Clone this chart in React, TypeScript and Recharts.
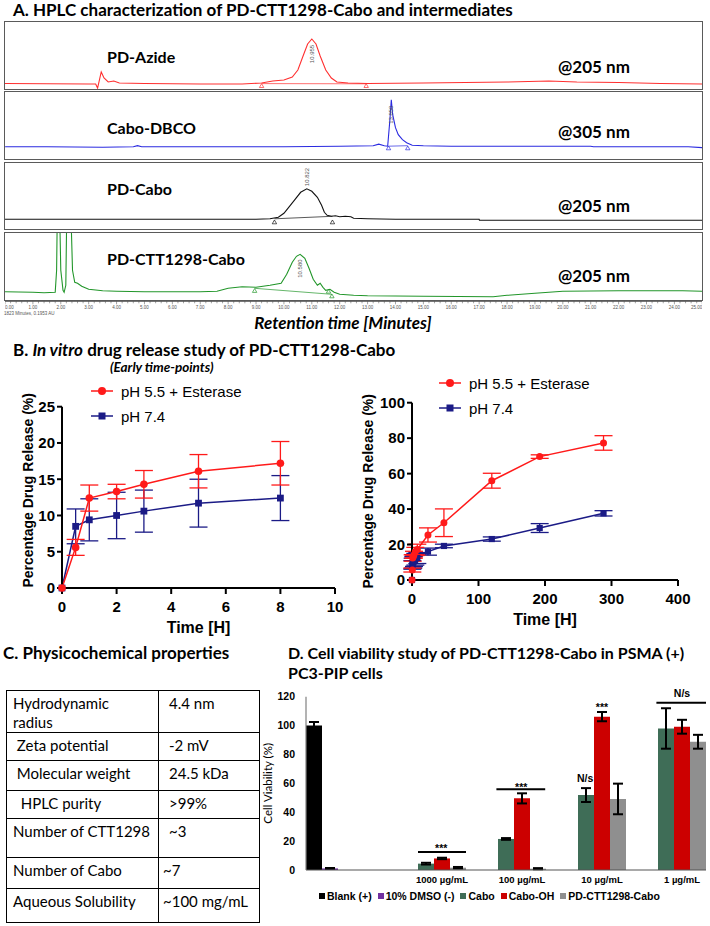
import React from 'react';
import {
  ComposedChart,
  LineChart,
  Line,
  Scatter,
  Bar,
  XAxis,
  YAxis,
  ErrorBar,
  Legend,
  ReferenceLine,
  ReferenceDot,
} from 'recharts';

// ---------- A. HPLC traces: retention time (min) and signal above baseline (a.u.)
const azideTime = [0, 3.0, 3.25, 3.32, 3.45, 3.55, 3.7, 3.9, 4.1, 5, 7, 8.5, 9.2, 9.6, 10.0, 10.3, 10.5, 10.7, 10.85, 11.0, 11.15, 11.3, 11.5, 11.7, 11.9, 12.3, 13, 15, 18, 19.5, 20.5, 22, 23.5, 25];
const azideSignal = [0.5, 0, 0, -4, 12, 6, 2, 3, 1, 0.5, 0, 0, 1, 3, 4, 7, 14, 29, 40, 45, 40, 28, 14, 6, 2, 1, 0.5, 1, 2, 3, 2, 1.5, 0.5, 0];
const dbcoTime = [0, 1.5, 3.5, 4.6, 4.75, 4.9, 8, 10, 12, 13.2, 13.4, 13.6, 13.72, 13.8, 13.85, 13.9, 14.0, 14.1, 14.25, 14.4, 14.6, 15, 16, 21, 21.1, 24.5, 25];
const dbcoSignal = [0, 0, -0.5, 0, 1, 0, 0, 0, 0.5, 1, 2.5, 1, 0.5, 27, 47, 32, 19, 12, 7, 4, 1.5, 1, 0.5, 0.5, 0, 0, -1];
const caboTime = [0, 9, 9.5, 9.8, 10.0, 10.2, 10.4, 10.6, 10.82, 11.0, 11.2, 11.35, 11.45, 11.55, 11.7, 11.85, 12.0, 12.2, 12.4, 12.5, 13, 14, 17, 17.01, 25];
const caboSignal = [0, 0, 0.5, 2, 6, 13, 20, 27, 30.5, 28, 22, 14, 7, 4, 3, 3.5, 2.5, 3, 2.5, 1, 0.5, 0, 0, -1, -1];
const conjTime = [0, 1.0, 1.4, 1.8, 1.85, 1.88, 1.95, 2.0, 2.08, 2.12, 2.18, 2.22, 2.35, 2.42, 2.5, 2.6, 2.75, 3.0, 3.5, 4, 5, 7, 7.6, 8.0, 8.5, 9.0, 9.5, 9.9, 10.1, 10.3, 10.45, 10.58, 10.75, 10.9, 11.05, 11.2, 11.3, 11.4, 11.5, 11.65, 11.8, 12.0, 12.5, 13, 15, 17.5, 18, 19, 20, 22, 23, 24.3, 25];
const conjSignal = [0.5, 0, -0.5, 0, 22, 92, 92, 22, 2, 0, 7, 92, 92, 22, 10, 9, 6, 3, 1.5, 1, 0.5, 0.5, 1, 4, 5.5, 5, 7, 9, 18, 30, 36, 38, 34, 24, 13, 7, 9, 5, 2, 3, 0, -2, -3, -3.5, -4, -4.5, -3, -1, 1, 1.5, 1.5, 1.5, 1];

// integration limits (triangles) and baselines
const azideLimitTime = [9.2, 12.95];
const azideLimitSignal = [-1.7, -1.7];
const dbcoLimitTime = [13.75, 14.44];
const dbcoLimitSignal = [-1.3, -1.3];
const caboLimitTime = [9.66, 11.74];
const caboLimitSignal = [-2.7, -2.7];
const conjLimitTime = [8.95, 11.6, 11.72];
const conjLimitSignal = [1.7, 1.0, -3.7];
const azideBaseSignal = [0.4, 0.2];
const dbcoBaseSignal = [0.5, 1];
const caboBaseSignal = [0.5, 3];
const conjBaseSignal = [4, -2];

const hplcTicks = Array.from({ length: 126 }, (_, i) => Math.round(i * 20) / 100);

// ---------- B. drug release
const releaseTime = [0, 0.5, 1, 2, 3, 5, 8, 24, 48, 120, 192, 288];
const acidRelease = [0, 5.6, 12.4, 13.3, 14.3, 16.1, 17.2, 25.4, 32.3, 56.0, 69.6, 77.3];
const acidErr = [0, 1.1, 1.8, 1.0, 1.9, 2.3, 3.0, 4.0, 7.8, 4.2, 1.0, 4.1];
const neutralRelease = [0, 8.5, 9.4, 10.0, 10.6, 11.7, 12.4, 16.0, 19.2, 23.1, 29.3, 37.6];
const neutralErr = [0, 2.4, 2.9, 3.2, 2.9, 3.3, 3.1, 2.0, 1.0, 1.2, 2.5, 1.5];

// ---------- C. properties
const propNames = ['Hydrodynamic radius', ' Zeta potential', ' Molecular weight', '  HPLC purity', 'Number of CTT1298', 'Number of Cabo', 'Aqueous Solubility'];
const propValues = ['4.4 nm', '-2 mV', '24.5 kDa', '>99%', '~3', '~7', '~100 mg/mL'];

// ---------- D. cell viability
const concCategories = ['', '1000 µg/mL', '100 µg/mL', '10 µg/mL', '1 µg/mL'];
const seriesNames = ['Blank (+)', '10% DMSO (-)', 'Cabo', 'Cabo-OH', 'PD-CTT1298-Cabo'];
const blankViability = [100, null, null, null, null];
const blankSd = [2.5, null, null, null, null];
const dmsoViability = [1.1, null, null, null, null];
const dmsoSd = [0.3, null, null, null, null];
const caboViability = [null, 4.4, 21.5, 51.9, 98.0];
const caboSd = [null, 0.6, 0.6, 4.8, 14];
const caboOhViability = [null, 8.0, 49.6, 106.2, 99.2];
const caboOhSd = [null, 0.5, 3.5, 3.2, 4.8];
const conjViability = [null, 1.6, 0.9, 49.2, 88.8];
const conjSd = [null, 0.5, 0.4, 10.6, 4.8];
// significance marks, x in category units (category i spans i..i+1)
const sigFrom = [1.4, 2.38, 4.38];
const sigTo = [2.0, 2.99, 5.0];
const sigLevel = [12.5, 55.9, 115.8];
const markX = [1.69, 2.69, 3.49, 3.7, 4.7];
const markY = [14.8, 57.6, 63.5, 113, 122.6];
const markText = ['***', '***', 'N/s', '***', 'N/s'];

const arial = '"Liberation Sans", Arial, sans-serif';
const lato = 'Lato, "Open Sans", sans-serif';

const traces = [
  { name: 'PD-Azide', wave: '@205 nm', color: '#ff3030', top: 22, bottom: 89.5, domain: [-5.5, 62], labelY: 57, waveY: 67,
    time: azideTime, signal: azideSignal, limT: azideLimitTime, limS: azideLimitSignal, baseS: azideBaseSignal, peak: '10.955', peakT: 11.0, peakS: 30 },
  { name: 'Cabo-DBCO', wave: '@305 nm', color: '#2a2ae0', top: 92.3, bottom: 160, domain: [-13, 54.7], labelY: 128, waveY: 132,
    time: dbcoTime, signal: dbcoSignal, limT: dbcoLimitTime, limS: dbcoLimitSignal, baseS: dbcoBaseSignal, peak: '13.850', peakT: 13.85, peakS: 32 },
  { name: 'PD-Cabo', wave: '@205 nm', color: '#111111', top: 162.7, bottom: 230, domain: [-11, 56.3], labelY: 189, waveY: 206,
    time: caboTime, signal: caboSignal, limT: caboLimitTime, limS: caboLimitSignal, baseS: caboBaseSignal, peak: '10.822', peakT: 10.82, peakS: 42.3 },
  { name: 'PD-CTT1298-Cabo', wave: '@205 nm', color: '#22962a', top: 232.7, bottom: 301, domain: [-9, 59.3], labelY: 259, waveY: 276,
    time: conjTime, signal: conjSignal, limT: conjLimitTime, limS: conjLimitSignal, baseS: conjBaseSignal, peak: '10.580', peakT: 10.58, peakS: 23.7 },
];

const HplcTick = (props: any) => {
  const { x, y, payload } = props;
  const v = payload.value;
  const major = Math.abs(v - Math.round(v)) < 1e-6;
  const anchor = v === 0 ? 'start' : v === 25 ? 'end' : 'middle';
  return (
    <g>
      <line x1={x} x2={x} y1={y} y2={y + (major ? 3 : 2)} stroke="#444" strokeWidth={0.5} />
      {major && (
        <text x={x} y={y + 8} fontSize={4.5} textAnchor={anchor} fill="#555" fontFamily={arial}>
          {v.toFixed(2)}
        </text>
      )}
    </g>
  );
};

const HplcTrace = ({ tr, showAxis }: any) => {
  const data = tr.time.map((t: number, i: number) => ({ t, v: tr.signal[i] }));
  const limits = tr.limT.map((t: number, i: number) => ({ t, v: tr.limS[i] }));
  const base = [tr.limT[0], tr.limT[tr.limT.length - 1]].map((t: number, i: number) => ({ t, v: tr.baseS[i] }));
  const peak = [{ t: tr.peakT, v: tr.peakS, label: tr.peak }];
  const h = tr.bottom - tr.top;
  return (
    <div style={{ position: 'absolute', left: 4.7, top: tr.top }}>
      <ComposedChart width={697.3} height={h + (showAxis ? 12 : 0)} margin={{ top: 0, right: 0, bottom: 0, left: 0 }}>
        <XAxis
          type="number"
          dataKey="t"
          domain={[0, 25]}
          allowDataOverflow
          hide={!showAxis}
          ticks={hplcTicks}
          interval={0}
          tick={<HplcTick />}
          tickLine={false}
          tickSize={0}
          tickMargin={0}
          axisLine={{ stroke: '#555', strokeWidth: 1 }}
          height={12}
        />
        <YAxis type="number" domain={tr.domain} allowDataOverflow hide />
        <Line data={base} dataKey="v" stroke={tr.color} strokeWidth={0.7} dot={false} isAnimationActive={false} />
        <Line data={data} dataKey="v" stroke={tr.color} strokeWidth={1.1} dot={false} isAnimationActive={false} />
        <Scatter
          data={limits}
          dataKey="v"
          isAnimationActive={false}
          shape={(p: any) => (
            <path d={`M${p.cx - 2.2},${p.cy + 1.8}L${p.cx},${p.cy - 2}L${p.cx + 2.2},${p.cy + 1.8}Z`} fill="none" stroke={tr.color} strokeWidth={0.7} />
          )}
        />
        <Scatter
          data={peak}
          dataKey="v"
          isAnimationActive={false}
          shape={(p: any) => (
            <text x={p.cx} y={p.cy} transform={`rotate(-90 ${p.cx} ${p.cy})`} fontSize={6} textAnchor="middle" dy={2} fill="#555" fontFamily={arial}>
              {p.payload.label}
            </text>
          )}
        />
      </ComposedChart>
    </div>
  );
};

// ---------- B components
const ReleaseLegend = ({ payload }: any) => (
  <div>
    {(payload || []).map((e: any) => (
      <div key={e.value} style={{ display: 'flex', alignItems: 'center', height: 25, font: `15px ${arial}`, color: '#000', whiteSpace: 'nowrap' }}>
        <svg width={22} height={12}>
          <line x1={0} x2={22} y1={6} y2={6} stroke={e.color} strokeWidth={1.5} />
          {e.dataKey === 'acid' ? <circle cx={11} cy={6} r={4} fill={e.color} /> : <rect x={7.5} y={2.5} width={7} height={7} fill={e.color} />}
        </svg>
        <span style={{ marginLeft: 8 }}>{e.value}</span>
      </div>
    ))}
  </div>
);

const axisStroke = { stroke: '#000', strokeWidth: 2 };
const releaseTick = { fontSize: 15, fontWeight: 700, fill: '#000', fontFamily: arial };

const ReleaseChart = ({ data, left, top, width, height, mTop, mRight, xDomain, xTicks, yDomain, yTicks, labelDx, labelDy, legendLeft, legendTop, r }: any) => (
  <div style={{ position: 'absolute', left, top }}>
    <LineChart width={width} height={height} data={data} margin={{ top: mTop, right: mRight, bottom: 6, left: 0 }}>
      <XAxis
        type="number"
        dataKey="t"
        domain={xDomain}
        ticks={xTicks}
        interval={0}
        height={45}
        axisLine={axisStroke}
        tickLine={axisStroke}
        tickSize={6}
        tickMargin={7}
        tick={releaseTick}
        label={{ value: 'Time [H]', position: 'insideBottom', offset: 0, style: { fontSize: 16, fontWeight: 700, fill: '#000', fontFamily: arial } }}
      />
      <YAxis
        type="number"
        domain={yDomain}
        ticks={yTicks}
        interval={0}
        width={62}
        axisLine={axisStroke}
        tickLine={axisStroke}
        tickSize={5}
        tickMargin={2}
        tick={releaseTick}
        label={{ value: 'Percentage Drug Release (%)', angle: -90, position: 'center', dx: labelDx, dy: labelDy, style: { fontSize: 14, fontWeight: 700, fill: '#000', fontFamily: arial } }}
      />
      <Legend layout="vertical" align="center" verticalAlign="middle" wrapperStyle={{ left: legendLeft, top: legendTop, width: 200 }} content={<ReleaseLegend />} />
      <Line
        dataKey="neutral"
        name="pH 7.4"
        stroke="#1b1b86"
        strokeWidth={1.5}
        isAnimationActive={false}
        dot={(p: any) => <rect key={`n${p.index}`} x={p.cx - r} y={p.cy - r} width={2 * r} height={2 * r} fill="#1b1b86" />}
      >
        <ErrorBar dataKey="neutralErr" width={9} stroke="#1b1b86" strokeWidth={1.3} direction="y" />
      </Line>
      <Line
        dataKey="acid"
        name="pH 5.5 + Esterase"
        stroke="#ff1a1a"
        strokeWidth={1.5}
        isAnimationActive={false}
        dot={(p: any) => <circle key={`a${p.index}`} cx={p.cx} cy={p.cy} r={r + 0.4} fill="#ff1a1a" />}
      >
        <ErrorBar dataKey="acidErr" width={9} stroke="#ff1a1a" strokeWidth={1.3} direction="y" />
      </Line>
    </LineChart>
  </div>
);

// ---------- D components
const ViabilityLegend = ({ payload }: any) => {
  const items = [...(payload || [])].sort((a: any, b: any) => seriesNames.indexOf(a.value) - seriesNames.indexOf(b.value));
  return (
    <div style={{ display: 'flex', font: `bold 10.5px ${arial}`, color: '#000', whiteSpace: 'nowrap' }}>
      {items.map((e: any) => (
        <span key={e.value} style={{ display: 'inline-flex', alignItems: 'center', marginRight: 6 }}>
          <span style={{ display: 'inline-block', width: 6, height: 6, background: e.color, marginRight: 2 }} />
          {e.value}
        </span>
      ))}
    </div>
  );
};

export default function App() {
  const releaseData = releaseTime.map((t, i) => ({
    t,
    acid: acidRelease[i],
    acidErr: acidErr[i],
    neutral: neutralRelease[i],
    neutralErr: neutralErr[i],
  }));
  const earlyData = releaseData.filter((d) => d.t <= 8);
  const viabilityData = concCategories.map((c, i) => ({
    conc: c,
    slot: i + 0.5,
    blank: blankViability[i],
    blankSd: blankSd[i],
    dmso: dmsoViability[i],
    dmsoSd: dmsoSd[i],
    cabo: caboViability[i],
    caboSd: caboSd[i],
    caboOh: caboOhViability[i],
    caboOhSd: caboOhSd[i],
    conj: conjViability[i],
    conjSd: conjSd[i],
  }));

  const title = { position: 'absolute' as const, fontFamily: lato, fontWeight: 700, fontSize: 17, color: '#000', whiteSpace: 'nowrap' as const, lineHeight: '20px' };
  const hplcLabel = { position: 'absolute' as const, fontFamily: lato, fontWeight: 700, fontSize: 16, color: '#000', whiteSpace: 'nowrap' as const, lineHeight: '20px' };
  const cell = { border: '1.5px solid #000', padding: '3px 6px 0 6px', verticalAlign: 'top' as const, fontFamily: lato, fontSize: 15, lineHeight: '19px', color: '#000', whiteSpace: 'pre-wrap' as const };
  const rowHeights = [40, 28, 30, 28, 39, 31, 34];

  return (
    <div style={{ position: 'absolute', left: 0, top: 0, width: 710, height: 926, background: '#fff', overflow: 'hidden' }}>
      {/* A */}
      <div style={{ ...title, left: 13, top: 0 }}>A. HPLC characterization of PD-CTT1298-Cabo and intermediates</div>
      {traces.map((tr) => (
        <div key={`box-${tr.name}`} style={{ position: 'absolute', left: 4, top: tr.top - 1, width: 699, height: tr.bottom - tr.top + 1, border: '1.5px solid #5a5a5a', boxSizing: 'border-box' }} />
      ))}
      {traces.map((tr, i) => (
        <HplcTrace key={tr.name} tr={tr} showAxis={i === traces.length - 1} />
      ))}
      {traces.map((tr) => (
        <React.Fragment key={`lbl-${tr.name}`}>
          <div style={{ ...hplcLabel, left: 107, top: tr.labelY - 10 }}>{tr.name}</div>
          <div style={{ ...hplcLabel, left: 558, top: tr.waveY - 10, fontSize: 17 }}>{tr.wave}</div>
        </React.Fragment>
      ))}
      <div style={{ position: 'absolute', left: 4, top: 311, fontSize: 4.5, fontFamily: arial, color: '#555', whiteSpace: 'nowrap' }}>1823 Minutes, 0.1953 AU</div>
      <div style={{ ...title, left: 0, width: 686, textAlign: 'center', top: 313, fontStyle: 'italic', fontSize: 17 }}>Retention time [Minutes]</div>

      {/* B */}
      <div style={{ ...title, left: 13, top: 340 }}>
        B. <i>In vitro</i> drug release study of PD-CTT1298-Cabo
      </div>
      <div style={{ ...title, left: 110, top: 358, fontSize: 13.5, fontStyle: 'italic', lineHeight: '18px' }}>(Early time-points)</div>
      <ReleaseChart
        data={earlyData}
        left={0}
        top={370}
        width={350}
        height={269}
        mTop={36.7}
        mRight={15}
        xDomain={[0, 10]}
        xTicks={[0, 2, 4, 6, 8, 10]}
        yDomain={[0, 25]}
        yTicks={[0, 5, 10, 15, 20, 25]}
        labelDx={-3}
        labelDy={-7}
        legendLeft={91}
        legendTop={8.5}
        r={3.4}
      />
      <ReleaseChart
        data={releaseData}
        left={350}
        top={370}
        width={348}
        height={261}
        mTop={32.7}
        mRight={20}
        xDomain={[0, 400]}
        xTicks={[0, 100, 200, 300, 400]}
        yDomain={[0, 100]}
        yTicks={[0, 20, 40, 60, 80, 100]}
        labelDx={-13}
        labelDy={0}
        legendLeft={89}
        legendTop={0.5}
        r={3.1}
      />

      {/* C */}
      <div style={{ ...title, left: 3, top: 643 }}>C. Physicochemical properties</div>
      <table style={{ position: 'absolute', left: 6, top: 690, width: 254, borderCollapse: 'collapse', tableLayout: 'fixed' }}>
        <tbody>
          {propNames.map((n, i) => (
            <tr key={n} style={{ height: rowHeights[i] }}>
              <td style={{ ...cell, width: 139 }}>{n}</td>
              <td style={{ ...cell, paddingLeft: i >= 5 ? 4 : 10 }}>{propValues[i]}</td>
            </tr>
          ))}
        </tbody>
      </table>

      {/* D */}
      <div style={{ ...title, left: 288, top: 643, fontSize: 16 }}>D. Cell viability study of PD-CTT1298-Cabo in PSMA (+)</div>
      <div style={{ ...title, left: 288, top: 663, fontSize: 16 }}>PC3-PIP cells</div>
      <div style={{ position: 'absolute', left: 255, top: 685 }}>
        <ComposedChart width={455} height={235} data={viabilityData} margin={{ top: 11.7, right: 4, bottom: 30, left: 0 }} barCategoryGap={0} barGap={0}>
          <XAxis
            xAxisId="cat"
            dataKey="conc"
            interval={0}
            height={20}
            tickLine={false}
            tickSize={0}
            tickMargin={6}
            axisLine={{ stroke: '#555', strokeWidth: 1.2 }}
            tick={{ dx: 16, fontSize: 9.5, fontWeight: 700, fill: '#000', fontFamily: arial }}
          />
          <XAxis xAxisId="num" dataKey="slot" type="number" domain={[0, 5]} allowDataOverflow hide />
          <YAxis
            domain={[0, 120]}
            ticks={[0, 20, 40, 60, 80, 100, 120]}
            interval={0}
            width={51}
            tickLine={false}
            tickSize={0}
            tickMargin={11}
            axisLine={{ stroke: '#808080', strokeWidth: 1.2 }}
            tick={{ fontSize: 10.5, fontWeight: 700, fill: '#000', fontFamily: arial }}
            label={{ value: 'Cell Viability (%)', angle: -90, position: 'center', dx: -12.5, style: { fontSize: 11.5, fill: '#000', fontFamily: lato } }}
          />
          <Legend layout="horizontal" align="center" verticalAlign="middle" wrapperStyle={{ left: 64, top: 205, width: 400 }} content={<ViabilityLegend />} />
          <Bar xAxisId="cat" dataKey="blank" name={seriesNames[0]} fill="#000000" isAnimationActive={false}>
            <ErrorBar dataKey="blankSd" width={5} stroke="#000" strokeWidth={2} direction="y" />
          </Bar>
          <Bar xAxisId="cat" dataKey="dmso" name={seriesNames[1]} fill="#7030a0" isAnimationActive={false}>
            <ErrorBar dataKey="dmsoSd" width={5} stroke="#000" strokeWidth={2} direction="y" />
          </Bar>
          <Bar xAxisId="cat" dataKey="cabo" name={seriesNames[2]} fill="#3f6d57" isAnimationActive={false}>
            <ErrorBar dataKey="caboSd" width={5} stroke="#000" strokeWidth={2} direction="y" />
          </Bar>
          <Bar xAxisId="cat" dataKey="caboOh" name={seriesNames[3]} fill="#cc0000" isAnimationActive={false}>
            <ErrorBar dataKey="caboOhSd" width={5} stroke="#000" strokeWidth={2} direction="y" />
          </Bar>
          <Bar xAxisId="cat" dataKey="conj" name={seriesNames[4]} fill="#8f8f8f" isAnimationActive={false}>
            <ErrorBar dataKey="conjSd" width={5} stroke="#000" strokeWidth={2} direction="y" />
          </Bar>
          {sigLevel.map((lv, i) => (
            <ReferenceLine
              key={`sig${i}`}
              xAxisId="num"
              segment={[{ x: sigFrom[i], y: lv }, { x: sigTo[i], y: lv }]}
              stroke="#000"
              strokeWidth={2}
              ifOverflow="visible"
            />
          ))}
          {markText.map((t, i) => (
            <ReferenceDot
              key={`mk${i}`}
              xAxisId="num"
              x={markX[i]}
              y={markY[i]}
              r={0}
              ifOverflow="visible"
              label={{ value: t, position: 'center', fontSize: 10.5, fontWeight: 700, fill: '#000', fontFamily: arial }}
            />
          ))}
        </ComposedChart>
      </div>
    </div>
  );
}
